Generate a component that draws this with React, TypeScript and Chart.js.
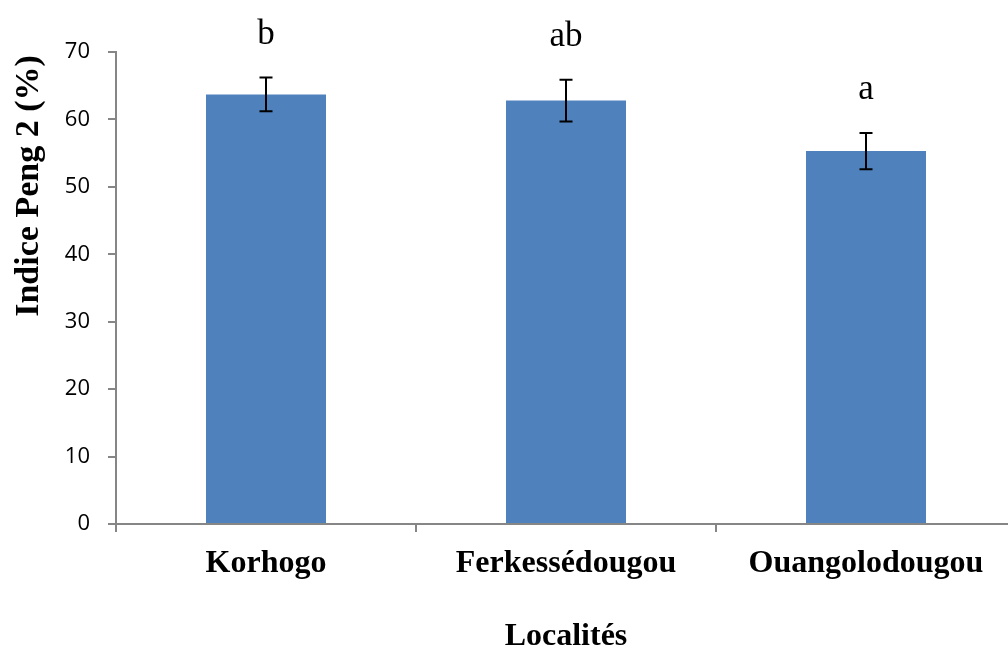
import React, { useEffect, useRef } from "react";
import { Chart, registerables } from "chart.js";

Chart.register(...registerables);

const categories = ["Korhogo", "Ferkessédougou", "Ouangolodougou"];
const means = [63.7, 62.8, 55.3];
const errors = [2.5, 3.1, 2.7];
const letters = ["b", "ab", "a"];
const yTitle = "Indice Peng 2 (%)";
const xTitle = "Localités";

const SERIF = "'Liberation Serif', 'Times New Roman', serif";

const overlay = {
  id: "overlay",
  afterDraw(chart: any) {
    const ctx = chart.ctx;
    const xs = chart.scales.x;
    const ys = chart.scales.y;
    ctx.save();
    // error bars
    ctx.strokeStyle = "#000";
    ctx.lineWidth = 2;
    means.forEach((m, i) => {
      const x = xs.getPixelForValue(i);
      const yt = ys.getPixelForValue(m + errors[i]);
      const yb = ys.getPixelForValue(m - errors[i]);
      ctx.beginPath();
      ctx.moveTo(x, yt);
      ctx.lineTo(x, yb);
      ctx.moveTo(x - 6.5, yt);
      ctx.lineTo(x + 6.5, yt);
      ctx.moveTo(x - 6.5, yb);
      ctx.lineTo(x + 6.5, yb);
      ctx.stroke();
      // letters
      ctx.fillStyle = "#000";
      ctx.font = `35px ${SERIF}`;
      ctx.textAlign = "center";
      ctx.textBaseline = "alphabetic";
      ctx.fillText(letters[i], x, yt - 34);
    });
    // x category labels
    ctx.font = `bold 32px ${SERIF}`;
    ctx.textAlign = "center";
    ctx.textBaseline = "alphabetic";
    categories.forEach((c, i) => {
      ctx.fillText(c, xs.getPixelForValue(i), 572);
    });
    // x title
    ctx.fillText(xTitle, 566, 645);
    // y title
    ctx.font = `bold 34px ${SERIF}`;
    ctx.translate(29, 186);
    ctx.rotate(-Math.PI / 2);
    ctx.textBaseline = "middle";
    ctx.fillText(yTitle, 0, 0);
    ctx.restore();
  },
};

export default function App() {
  const ref = useRef<HTMLCanvasElement>(null);
  useEffect(() => {
    if (!ref.current) return;
    const chart = new Chart(ref.current, {
      type: "bar",
      data: {
        labels: categories,
        datasets: [
          {
            data: means,
            backgroundColor: "#4F81BD",
            borderWidth: 0,
            categoryPercentage: 1,
            barPercentage: 0.4,
          },
        ],
      },
      options: {
        responsive: false,
        animation: false,
        layout: { padding: { top: 52, right: 4, left: 0, bottom: 0 } },
        plugins: {
          legend: { display: false },
          tooltip: { enabled: false },
        },
        scales: {
          x: {
            offset: true,
            grid: {
              offset: true,
              drawOnChartArea: false,
              drawTicks: true,
              tickLength: 8,
              color: "#868686",
              lineWidth: 2,
            },
            border: { color: "#868686", width: 2 },
            ticks: { display: false },
            afterFit(scale: any) {
              scale.height = 126;
            },
          },
          y: {
            min: 0,
            max: 70,
            grid: {
              drawOnChartArea: false,
              drawTicks: true,
              tickLength: 8,
              color: "#868686",
              lineWidth: 2,
            },
            border: { color: "#868686", width: 2 },
            ticks: {
              stepSize: 10,
              padding: 18,
              color: "#000",
              font: { family: "'Open Sans', sans-serif", size: 22 },
            },
            afterFit(scale: any) {
              scale.width = 116;
            },
          },
        },
      },
      plugins: [overlay],
    });
    return () => chart.destroy();
  }, []);
  return (
    <div
      style={{
        position: "fixed",
        left: 0,
        top: 0,
        width: 1008,
        height: 650,
        overflow: "hidden",
        background: "#fff",
      }}
    >
      <canvas ref={ref} width={1020} height={650} style={{ width: 1020, height: 650, display: "block" }} />
    </div>
  );
}
